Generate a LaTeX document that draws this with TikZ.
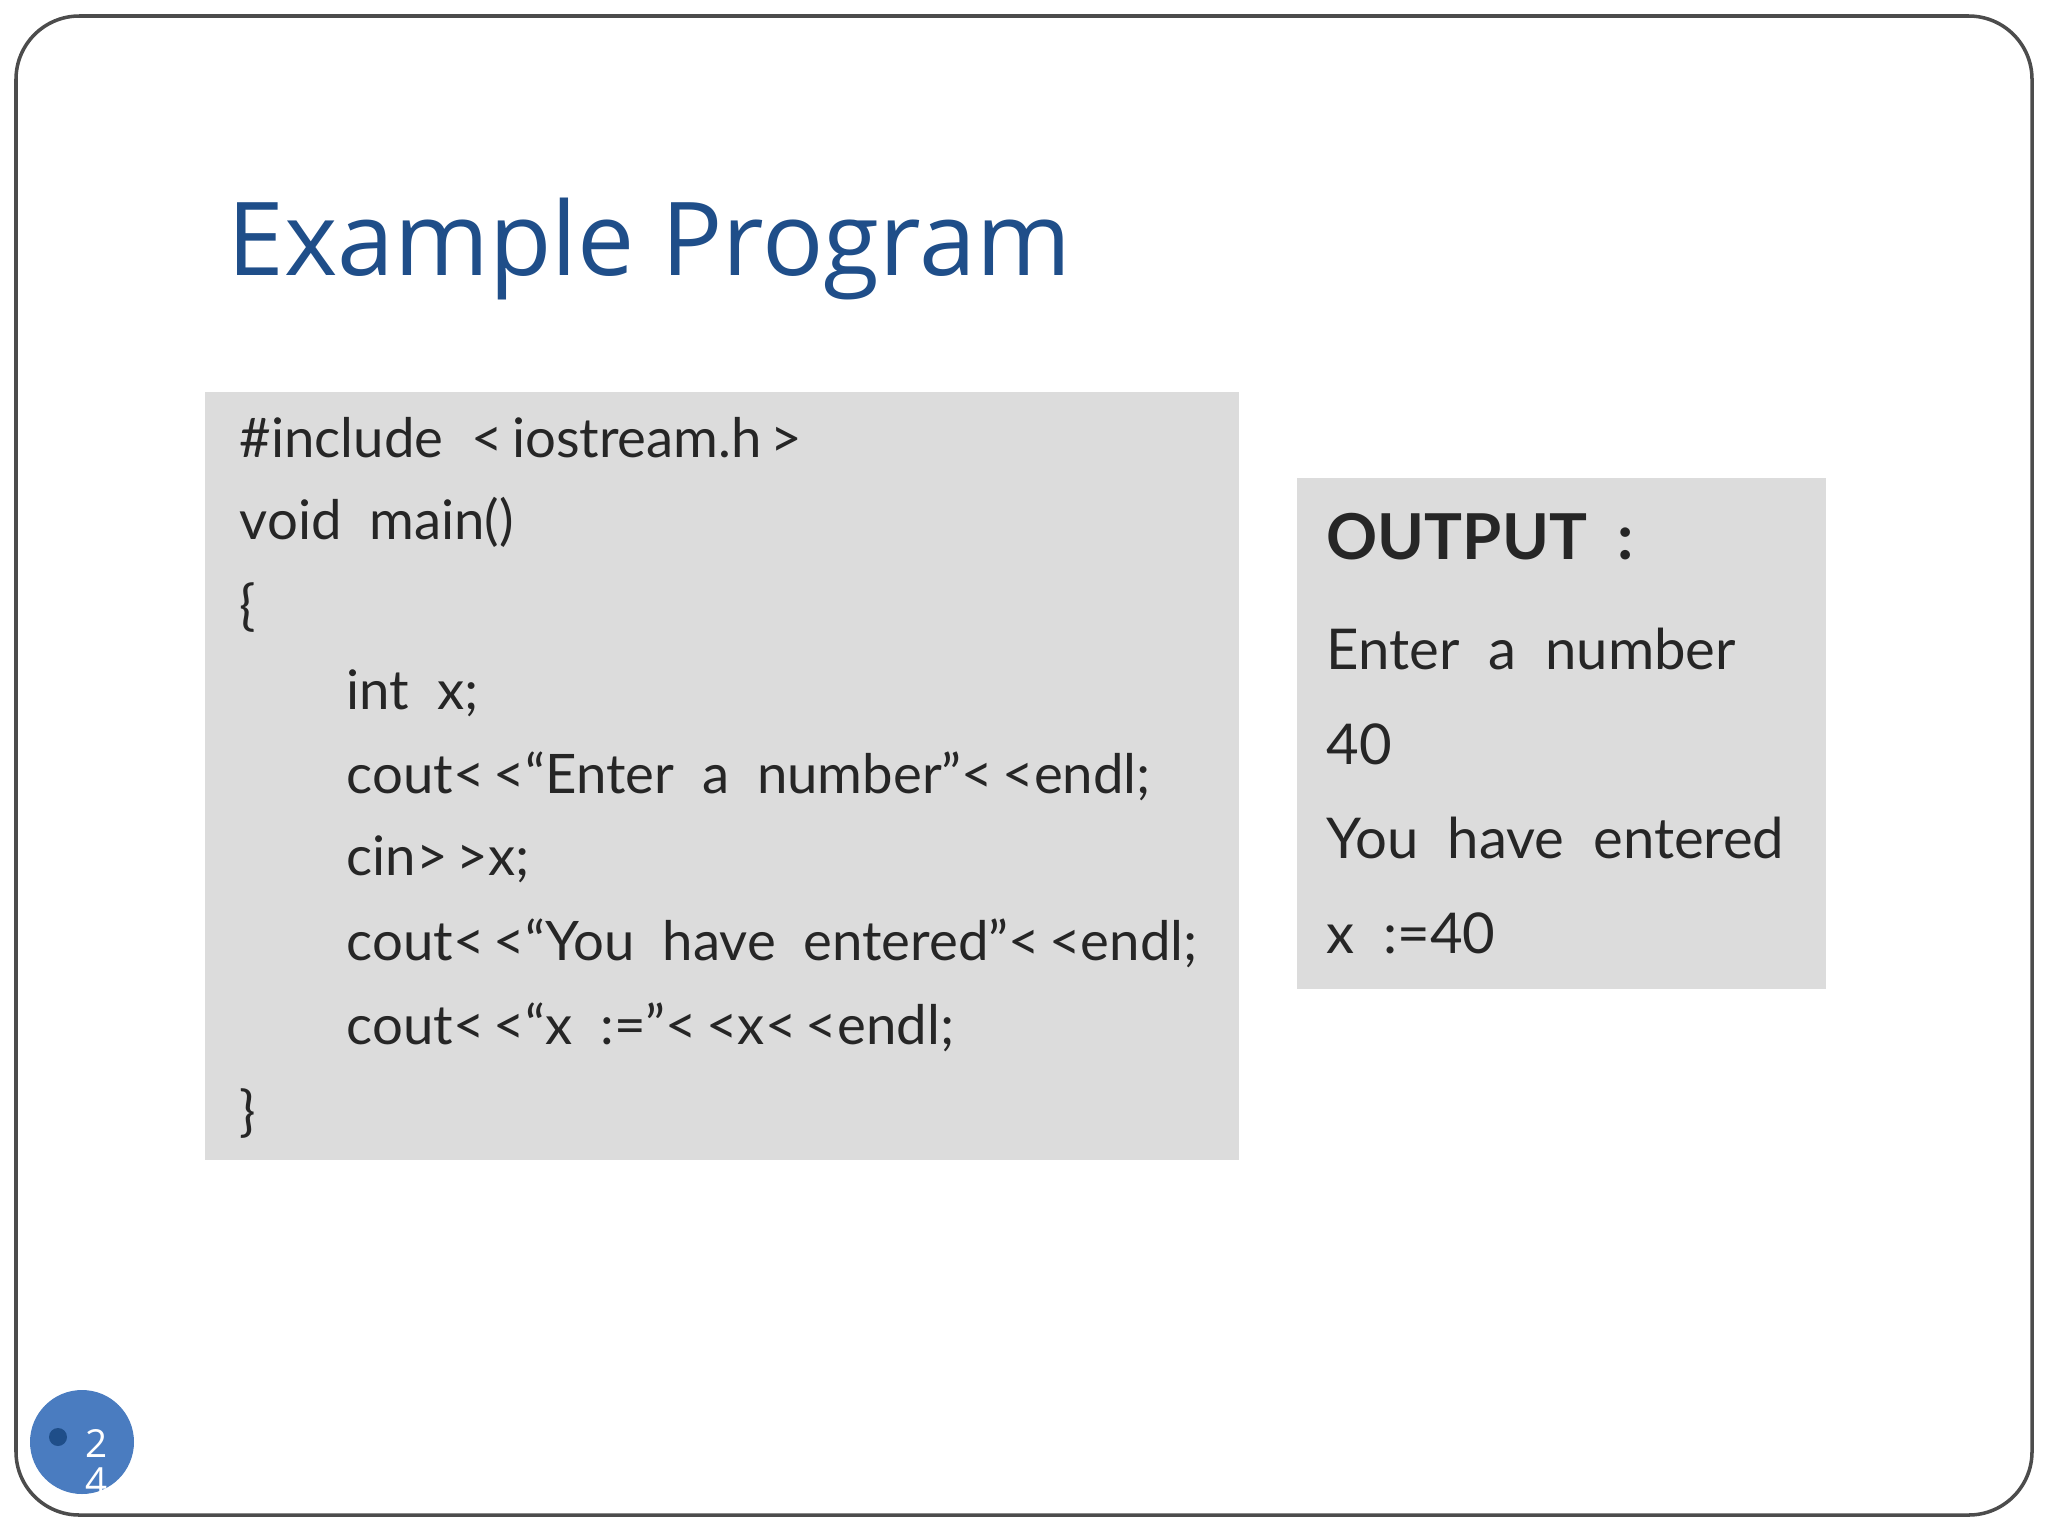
\documentclass[tikz,border=0pt]{standalone}
\usepackage{fontspec}
\setmainfont{Lato}
\newfontfamily\titlefont{Open Sans}
\definecolor{titleblue}{HTML}{1F4E89}
\definecolor{boxgray}{HTML}{DCDCDC}
\definecolor{circblue}{HTML}{4A7CC0}
\begin{document}
\begin{tikzpicture}[x=0.01cm,y=-0.01cm,
  code/.style={anchor=base west,inner sep=0,font=\fontsize{15.5}{18}\selectfont,text=black!85},
  outtxt/.style={anchor=base west,inner sep=0,font=\fontsize{16}{19}\selectfont,text=black!85}]
\useasboundingbox (0,0) rectangle (2048,1536);
\draw[black!70,line width=1pt,rounded corners=18pt] (16,16) rectangle (2032,1515);
\node[anchor=base west,inner sep=0,text=titleblue,font=\titlefont\fontsize{29}{36}\selectfont] (title) at (227,275) {Example Program};
\fill[boxgray] (205,392) rectangle (1239,1160);
\fill[boxgray] (1297,478) rectangle (1826,989);
\node[code] (l1) at (239,457) {\#include\ \ <\,iostream.h\,>};
\node[code] (l2) at (239,539) {void\ \ main()};
\node[code] (l3) at (239,624) {\{};
\node[code] (l4) at (346,709) {int\ \ x;};
\node[code] (l5) at (346,793) {cout<\,<“Enter\ \ a\ \ number”<\,<endl;};
\node[code] (l6) at (346,875) {cin>\,>x;};
\node[code] (l7) at (346,960) {cout<\,<“You\ \ have\ \ entered”<\,<endl;};
\node[code] (l8) at (346,1044) {cout<\,<“x\ \ :=”<\,<x<\,<endl;};
\node[code] (l9) at (239,1130) {\}};
\node[outtxt,font=\bfseries\fontsize{18}{21}\selectfont] (o1) at (1326,559) {OUTPUT\ \ :};
\node[outtxt] (o2) at (1326,669) {Enter\ \ a\ \ number};
\node[outtxt] (o3) at (1326,764) {40};
\node[outtxt] (o4) at (1326,858) {You\ \ have\ \ entered};
\node[outtxt] (o5) at (1326,953) {x\ \ :=40};
\fill[circblue] (82,1442) circle (52);
\fill[titleblue] (58,1437) circle (9);
\begin{scope}
\clip[rounded corners=18pt] (16,16) rectangle (2032,1515);
\node[anchor=base,inner sep=0,text=white,font=\titlefont\fontsize{11}{13}\selectfont] (n1) at (97,1457) {2};
\node[anchor=base,inner sep=0,text=white,font=\titlefont\fontsize{11}{13}\selectfont] (n2) at (97,1495) {4};
\end{scope}
\end{tikzpicture}
\end{document}
